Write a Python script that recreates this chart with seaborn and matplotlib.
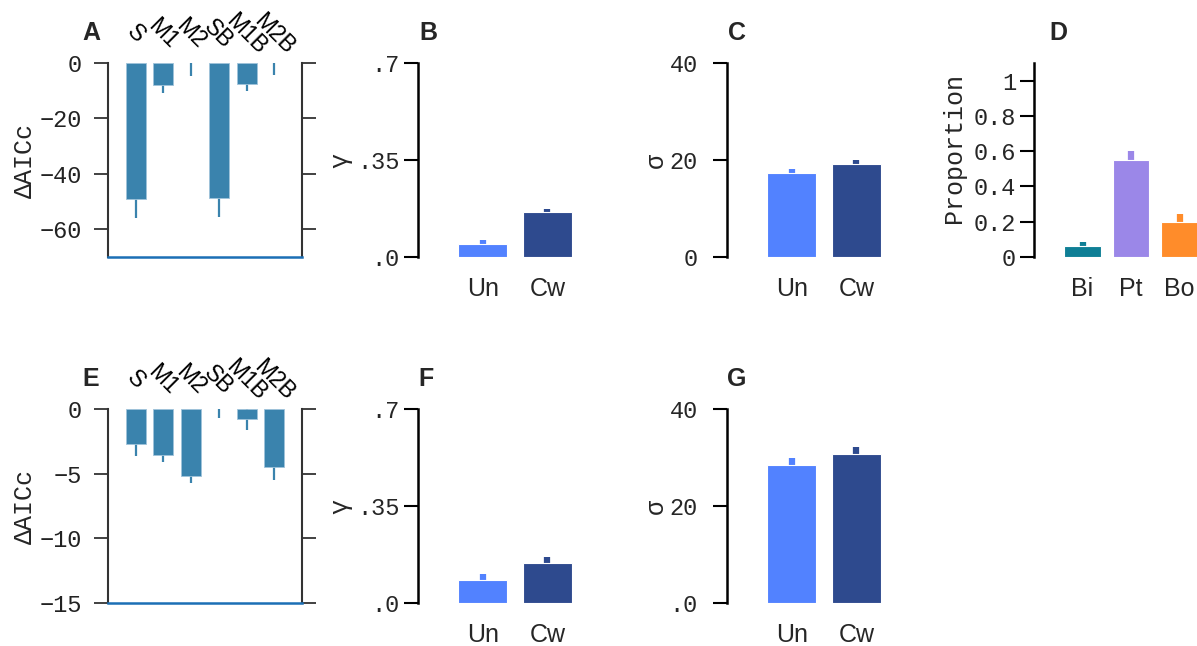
import numpy as np
import pandas as pd
import seaborn as sns
import matplotlib
matplotlib.use("Agg")
import matplotlib.pyplot as plt

# model comparison (delta AICc) labels
models = ["S", "M1", "M2", "SB", "M1B", "M2B"]
aic_top = [-49.0, -7.9, 0.0, -48.6, -7.6, 0.0]
aic_top_err = [7.0, 2.9, 4.8, 7.1, 2.6, 4.2]
aic_bot = [-2.7, -3.55, -5.15, 0.0, -0.8, -4.45]
aic_bot_err = [0.9, 0.55, 0.55, 0.72, 0.85, 1.05]

# condition panels
conds = ["Un", "Cw"]
gamma_top = [0.047, 0.161]
gamma_top_err = [0.014, 0.014]
sigma_top = [17.3, 19.2]
sigma_top_err = [0.8, 0.8]
gamma_bot = [0.083, 0.145]
gamma_bot_err = [0.022, 0.022]
sigma_bot = [28.5, 30.7]
sigma_bot_err = [1.3, 1.4]

# proportion panel
resp = ["Bi", "Pt", "Bo"]
prop = [0.06, 0.55, 0.20]
prop_err = [0.023, 0.05, 0.045]

aic_color = "#3a83ad"
cond_colors = ["#5282ff", "#2e4a8e"]
resp_colors = ["#0f7f96", "#9b87e8", "#ff8c2a"]

sns.set_style("ticks")
plt.rcParams["font.family"] = ["Liberation Mono", "DejaVu Sans Mono"]
plt.rcParams["font.size"] = 17
plt.rcParams["axes.labelsize"] = 18
SANS = ["Liberation Sans", "DejaVu Sans"]

W, H = 1197, 646
fig = plt.figure(figsize=(W / 100, H / 100), dpi=100)


def box(left, top, w=194, h=194):
    return [left / W, (H - top - h) / H, w / W, h / H]


def letter_text(letter, pos):
    fig.text(pos[0] / W, 1 - pos[1] / H, letter, ha="center", va="center",
             fontsize=18, fontweight="bold", family=SANS)


def aic_panel(rect, vals, errs, ylim, yticks, letter, lpos):
    ax = fig.add_axes(rect)
    df = pd.DataFrame({"model": models, "val": vals})
    sns.barplot(data=df, x="model", y="val", color=aic_color, saturation=1,
                width=0.72, edgecolor="#9fc3da", linewidth=0.6, ax=ax, zorder=2)
    # no outline on empty bars
    for p in ax.patches:
        if p.get_height() == 0:
            p.set_linewidth(0)
    ax.vlines(range(len(models)), np.array(vals) - errs, np.array(vals) + errs,
              colors=aic_color, linewidth=1.6, zorder=1)
    ax.set_xlim(-1, len(models))
    ax.set_ylim(*ylim)
    ax.set_yticks(yticks)
    ax.set_yticklabels([str(t).replace("-", "\u2212") for t in yticks])
    ax.set_ylabel("\u0394AICc", va="center")
    ax.yaxis.set_label_coords(-0.43, 0.5)
    ax.set_xlabel("")
    ax.xaxis.tick_top()
    ax.tick_params(axis="x", length=0, pad=21)
    for lab in ax.get_xticklabels():
        lab.set_rotation(-45)
        lab.set_rotation_mode("anchor")
        lab.set_ha("center")
        lab.set_va("center")
        lab.set_fontfamily(SANS)
        lab.set_fontsize(16.5)
        lab.set_color("black")
    ax.tick_params(axis="y", left=True, right=True, labelright=False,
                   length=10, width=1.3, colors="#333333", pad=9)
    ax.tick_params(axis="y", labelcolor="#222222")
    for s in ["left", "right"]:
        ax.spines[s].set_color("#333333")
        ax.spines[s].set_linewidth(1.5)
    ax.spines["top"].set_visible(False)
    ax.spines["bottom"].set_color("#1b6fb5")
    ax.spines["bottom"].set_linewidth(1.8)
    letter_text(letter, lpos)
    return ax


def bar_panel(rect, cats, vals, errs, colors, ylim, yticks, ylabels, ylabel,
              lab_x, lab_y, pad, letter, lpos):
    ax = fig.add_axes(rect)
    df = pd.DataFrame({"cat": cats, "val": vals})
    sns.barplot(data=df, x="cat", y="val", hue="cat", palette=colors,
                saturation=1, legend=False, width=0.75, edgecolor="white",
                linewidth=0.8, ax=ax, zorder=2)
    ax.vlines(range(len(cats)), np.array(vals) - errs, np.array(vals) + errs,
              colors=colors, linewidth=4.5, zorder=1)
    ax.set_xlim(-1, 3 if len(cats) == 3 else 2)
    ax.set_ylim(*ylim)
    ax.set_yticks(yticks)
    ax.set_yticklabels(ylabels)
    ax.set_xlabel("")
    ax.set_ylabel(ylabel, va="center")
    ax.yaxis.set_label_coords(lab_x, lab_y)
    ax.tick_params(axis="x", length=0, pad=14.5)
    for lab in ax.get_xticklabels():
        lab.set_fontfamily(SANS)
        lab.set_fontsize(18)
    ax.tick_params(axis="y", length=10, width=1.5, color="black", pad=pad)
    sns.despine(ax=ax, bottom=True)
    ax.spines["left"].set_linewidth(1.8)
    ax.spines["left"].set_color("black")
    letter_text(letter, lpos)
    return ax


aic_panel(box(108, 63), aic_top, aic_top_err, (-70, 0), [0, -20, -40, -60], "A", (91, 33))
aic_panel(box(108, 409), aic_bot, aic_bot_err, (-15, 0), [0, -5, -10, -15], "E", (91, 379))

bar_panel(box(418, 63), conds, gamma_top, gamma_top_err, cond_colors, (0, 0.7),
          [0, 0.35, 0.7], [".0", ".35", ".7"], "\u03b3", -0.40, 0.5, 3, "B", (428, 33))
bar_panel(box(418, 409), conds, gamma_bot, gamma_bot_err, cond_colors, (0, 0.7),
          [0, 0.35, 0.7], [".0", ".35", ".7"], "\u03b3", -0.40, 0.5, 3, "F", (426, 379))
bar_panel(box(727, 63), conds, sigma_top, sigma_top_err, cond_colors, (0, 40),
          [0, 20, 40], ["0", "20", "40"], "\u03c3", -0.365, 0.5, 11, "C", (737, 33))
bar_panel(box(727, 409), conds, sigma_bot, sigma_bot_err, cond_colors, (0, 40),
          [0, 20, 40], [".0", "20", "40"], "\u03c3", -0.365, 0.5, 11, "G", (737, 379))
bar_panel(box(1034, 63), resp, prop, prop_err, resp_colors, (0, 1.1),
          [0, 0.2, 0.4, 0.6, 0.8, 1.0], ["0", "0.2", "0.4", "0.6", "0.8", "1"],
          "Proportion", -0.41, 0.56, 3, "D", (1058, 33))

fig.savefig("out.png", dpi=100)
